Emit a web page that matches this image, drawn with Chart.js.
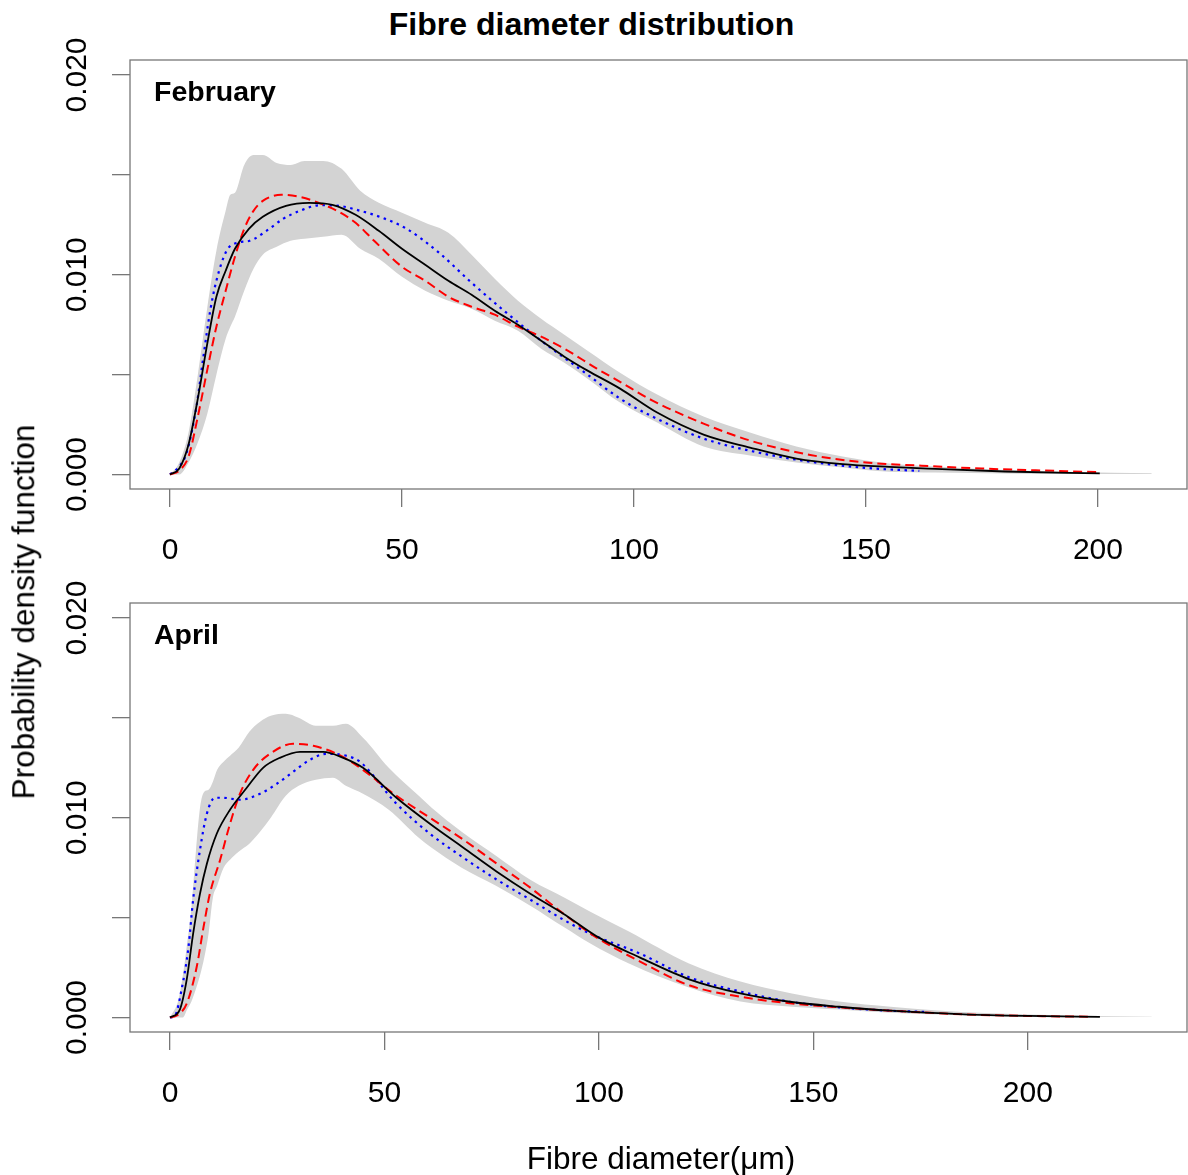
<!DOCTYPE html>
<html>
<head>
<meta charset="utf-8">
<title>Fibre diameter distribution</title>
<script src="https://cdn.jsdelivr.net/npm/chart.js@4.4.0/dist/chart.umd.min.js"></script>
<style>
  body { margin: 0; background: #fff; }
  #wrap { position: relative; width: 1188px; height: 1175px; overflow: hidden;
          font-family: "Liberation Sans", Arial, sans-serif; color: #000; }
  .cv { position: absolute; left: 0; }
  #title { position: absolute; left: 0; width: 1183px; top: 8px; text-align: center;
           font-weight: bold; font-size: 32px; line-height: 32px; }
  #ylab { position: absolute; left: 24px; top: 612px; font-size: 31.5px; line-height: 31.5px;
          white-space: nowrap; transform: translate(-50%, -50%) rotate(-90deg); }
  #xlab { position: absolute; left: 661px; top: 1143px; font-size: 31.5px; line-height: 31.5px;
          white-space: nowrap; transform: translateX(-50%); }
</style>
</head>
<body>
<div id="wrap">
  <div id="title">Fibre diameter distribution</div>
  <canvas id="febChart" class="cv" width="1188" height="580" style="top:0px"></canvas>
  <canvas id="aprChart" class="cv" width="1188" height="595" style="top:580px"></canvas>
  <div id="ylab">Probability density function</div>
  <div id="xlab">Fibre diameter(&mu;m)</div>
</div>
<script>
// axis ticks
const xTickVals = [0, 50, 100, 150, 200];
const yTickVals = [0, 0.005, 0.01, 0.015, 0.02];
const yTickLabels = [0, 0.01, 0.02];

// February: grey band (upper / lower edge), black, red dashed, blue dotted
const febBandX = [0, 2, 4, 6, 8, 10, 12, 13, 14, 16, 18, 20, 23, 26, 29, 33, 37, 41, 45, 50,
                  55, 60, 65, 70, 75, 80, 85, 90, 97, 105, 115, 125, 135, 145, 155, 165, 180, 195, 211.6];
const febUpper = [0, 0.0006, 0.0021, 0.0050, 0.0083, 0.0112, 0.0132, 0.0140, 0.0141, 0.0155,
                  0.0160, 0.0160, 0.0156, 0.0155, 0.0157, 0.0157, 0.0153, 0.0142, 0.0136, 0.0131,
                  0.0126, 0.0121, 0.0110, 0.0098, 0.0087, 0.0078, 0.0070, 0.0062, 0.0051, 0.0040,
                  0.0029, 0.0021, 0.0014, 0.0009, 0.00055, 0.0004, 0.00022, 0.00012, 0.00006];
const febLower = [0, 0, 0.0006, 0.0016, 0.0030, 0.0050, 0.0068, 0.0074, 0.0079, 0.0092,
                  0.0103, 0.0110, 0.0114, 0.0117, 0.0118, 0.0119, 0.0120, 0.0113, 0.0108, 0.0099,
                  0.0092, 0.0087, 0.0083, 0.0077, 0.0072, 0.0063, 0.0056, 0.0048, 0.0036, 0.0026,
                  0.0014, 0.00095, 0.0006, 0.00035, 0.00014, 0.0001, 0.00005, 0.00002, 0.00002];

const febBlackX = [0, 2, 4, 6, 8, 10, 12, 14, 17, 20, 25, 30, 35, 40, 45, 50, 55, 60, 65, 70,
                   75, 80, 85, 90, 97, 105, 115, 125, 135, 145, 155, 165, 180, 200.4];
const febBlack = [0, 0.0003, 0.0015, 0.0038, 0.0065, 0.0089, 0.0102, 0.0113, 0.0123, 0.0129,
                  0.01345, 0.0136, 0.0135, 0.0130, 0.0122, 0.0113, 0.0105, 0.0097, 0.0090, 0.0082,
                  0.0075, 0.0067, 0.0059, 0.0052, 0.0043, 0.0031, 0.0020, 0.00135, 0.0008, 0.00052,
                  0.00038, 0.00028, 0.00015, 0.00006];

const febRedX = [0, 2, 4, 6, 8, 10, 12, 14, 16, 18, 20, 24, 28, 32, 36, 40, 44, 50, 55, 60,
                 65, 70, 75, 80, 85, 92, 97, 104, 115, 125, 138, 150, 162, 175, 188, 200.4];
const febRed = [0, 0.0002, 0.0009, 0.0029, 0.0052, 0.0074, 0.0092, 0.0109, 0.0123, 0.0132,
                0.0137, 0.0140, 0.0139, 0.0136, 0.0132, 0.0126, 0.0117, 0.0104, 0.0097, 0.0089,
                0.0084, 0.0080, 0.0074, 0.0069, 0.0063, 0.0053, 0.00464, 0.0037, 0.00255, 0.0017,
                0.00098, 0.0006, 0.00044, 0.0003, 0.0002, 0.00012];

const febBlueX = [0, 2, 3.6, 5.7, 7.2, 8.6, 10, 12.2, 14.4, 17.2, 20.8, 24.4, 28, 32.3, 37, 41, 44, 51, 58, 65,
                  72.5, 80, 90, 97, 104, 115, 126, 138, 150, 161.5];
const febBlue = [0, 0.0004, 0.0011, 0.0034, 0.0059, 0.0081, 0.0097, 0.0112, 0.0116, 0.0117,
                 0.0122, 0.0128, 0.0132, 0.01348, 0.01343, 0.0132, 0.0130, 0.0123, 0.0111, 0.0096,
                 0.0081, 0.0067, 0.0050, 0.0038, 0.0029, 0.0018, 0.00114, 0.00064, 0.00033, 0.00018];

// April
const aprBandX = [0, 2, 3, 4, 5, 6, 7, 8, 9, 10, 11, 12.5, 14, 16, 18.5, 21, 23.5, 27, 30, 34,
                  38, 41, 45, 51, 58, 61, 68, 76, 84, 92, 98, 107, 121, 133, 145, 156, 168, 190, 210, 228.9];
const aprUpper = [0, 0.0009, 0.0021, 0.0037, 0.0055, 0.0082, 0.0105, 0.0113, 0.0114, 0.0118,
                  0.0124, 0.0128, 0.0131, 0.0135, 0.0143, 0.0148, 0.0151, 0.0152, 0.0150, 0.0146,
                  0.0146, 0.0147, 0.0140, 0.0125, 0.0111, 0.0105, 0.0093, 0.0081, 0.0069, 0.0060,
                  0.0053, 0.0043, 0.0027, 0.0018, 0.0012, 0.0008, 0.00054, 0.00022, 0.0001, 0.00004];
const aprLower = [0, 0, 0, 0.0004, 0.0008, 0.0014, 0.0021, 0.0030, 0.0042, 0.0060,
                  0.0066, 0.0075, 0.0079, 0.0083, 0.0087, 0.0093, 0.0100, 0.0111, 0.0116, 0.0119,
                  0.0120, 0.0116, 0.0112, 0.0104, 0.0090, 0.0085, 0.0075, 0.0066, 0.0056, 0.0045,
                  0.0037, 0.0027, 0.0015, 0.0008, 0.00054, 0.0004, 0.00024, 0.0001, 0.00004, 0.00002];

const aprBlackX = [0, 2.3, 3.9, 5.4, 7, 8.6, 10.9, 14, 17.9, 21.7, 25.6, 30.3, 35.7, 40.4, 45, 52.8, 60.6, 68.4, 76.2, 84,
                   91.7, 100, 109.6, 121.2, 133, 144.5, 156, 168, 185, 200, 216.8];
const aprBlack = [0, 0.0004, 0.0019, 0.0042, 0.0062, 0.0077, 0.0092, 0.0104, 0.0115, 0.0125,
                  0.0130, 0.0133, 0.0133, 0.0130, 0.0125, 0.0110, 0.0097, 0.0085, 0.0073, 0.0062,
                  0.0052, 0.0040, 0.0030, 0.0019, 0.00121, 0.00079, 0.00054, 0.00034, 0.00016, 0.00008,
                  0.00003];

const aprRedX = [0, 1.6, 3.9, 6.2, 7.8, 9.3, 11.7, 14, 16.3, 19.4, 23.3, 28.7, 33.4, 38.9, 44.3, 52.8, 60.6, 68.4, 76.2, 84,
                 91.7, 99.5, 109.6, 121.2, 133, 144.5, 156, 168, 185, 200, 214];
const aprRed = [0, 0.0001, 0.0007, 0.0025, 0.0045, 0.0062, 0.0079, 0.0097, 0.0112, 0.0124,
                0.0132, 0.0137, 0.0136, 0.0132, 0.0125, 0.0111, 0.0100, 0.0089, 0.0077, 0.0065,
                0.0052, 0.0040, 0.0028, 0.0016, 0.00104, 0.00071, 0.00051, 0.00034, 0.00016, 0.00008,
                0.00004];

const aprBlueX = [0, 1.2, 2.7, 4.3, 5.4, 7, 8.6, 10.5, 12.4, 16.3, 21, 24.9, 28.7, 32.6, 36.5, 41.2, 44.3, 52.8, 60.6, 68.4,
                  76.2, 84, 91.7, 97.9, 109.6, 121.2, 133, 144.5, 156, 168, 176];
const aprBlue = [0, 0.0001, 0.0014, 0.0035, 0.0059, 0.0084, 0.0102, 0.0110, 0.0110, 0.0109,
                 0.0112, 0.0117, 0.0123, 0.0129, 0.0132, 0.0131, 0.0128, 0.0107, 0.0092, 0.0080,
                 0.0069, 0.0059, 0.0049, 0.0042, 0.0032, 0.0020, 0.0013, 0.00079, 0.00051, 0.00034,
                 0.00028];

function pts(xs, ys) {
    return xs.map((x, i) => ({ x: x, y: ys[i] }));
}

const FONT = '"Liberation Sans", Arial, sans-serif';

// box, rotated y labels, x labels and panel name (R base-graphics look)
const panelDecor = {
    id: 'panelDecor',
    afterDraw(chart, args, opts) {
        const ctx = chart.ctx;
        const a = chart.chartArea;
        const xs = chart.scales.x;
        const ys = chart.scales.y;
        ctx.save();
        ctx.strokeStyle = '#777';
        ctx.lineWidth = 1.3;
        ctx.strokeRect(a.left, a.top, a.right - a.left, a.bottom - a.top);

        ctx.fillStyle = '#000';
        ctx.font = '30px ' + FONT;
        ctx.textAlign = 'center';
        ctx.textBaseline = 'alphabetic';
        xTickVals.forEach(v => {
            ctx.fillText(String(v), xs.getPixelForValue(v), a.bottom + 70);
        });
        yTickLabels.forEach(v => {
            ctx.save();
            ctx.translate(86, ys.getPixelForValue(v));
            ctx.rotate(-Math.PI / 2);
            ctx.fillText(v.toFixed(3), 0, 0);
            ctx.restore();
        });

        ctx.font = 'bold 28.5px ' + FONT;
        ctx.textAlign = 'left';
        ctx.fillText(opts.label, 154, a.top + 41);
        ctx.restore();
    }
};

function makePanel(canvasId, p) {
    const line = (data, color, width, dash) => ({
        data: data,
        showLine: true,
        borderColor: color,
        borderWidth: width,
        borderDash: dash,
        pointRadius: 0,
        fill: false,
        cubicInterpolationMode: 'monotone'
    });
    const band = (data, fill) => ({
        data: data,
        showLine: true,
        borderWidth: 0,
        borderColor: 'rgba(0,0,0,0)',
        backgroundColor: '#d3d3d3',
        pointRadius: 0,
        fill: fill,
        cubicInterpolationMode: 'monotone'
    });

    // first dataset is painted last, so black ends up on top
    const datasets = [
        line(pts(p.blackX, p.black), '#000000', 1.8, []),
        line(pts(p.redX, p.red), '#ff0000', 2, [9, 5]),
        line(pts(p.blueX, p.blue), '#0000ff', 2.2, [2.5, 4.5]),
        band(pts(p.bandX, p.upper), '+1'),
        band(pts(p.bandX, p.lower), false)
    ];

    return new Chart(document.getElementById(canvasId), {
        type: 'scatter',
        data: { datasets: datasets },
        plugins: [panelDecor],
        options: {
            responsive: false,
            animation: false,
            devicePixelRatio: 1,
            layout: { padding: { top: p.padTop, right: 1, left: 0, bottom: 0 } },
            plugins: {
                legend: { display: false },
                tooltip: { enabled: false },
                panelDecor: { label: p.label }
            },
            scales: {
                x: {
                    type: 'linear',
                    min: p.xMin,
                    max: p.xMax,
                    afterBuildTicks: s => { s.ticks = xTickVals.map(v => ({ value: v })); },
                    afterFit: s => { s.height = p.xHeight; },
                    ticks: { display: false },
                    border: { display: false },
                    grid: { drawOnChartArea: false, drawTicks: true, tickLength: 18,
                            color: '#777', lineWidth: 1.3 }
                },
                y: {
                    type: 'linear',
                    min: -0.000725,
                    max: 0.02075,
                    afterBuildTicks: s => { s.ticks = yTickVals.map(v => ({ value: v })); },
                    afterFit: s => { s.width = 130; },
                    ticks: { display: false },
                    border: { display: false },
                    grid: { drawOnChartArea: false, drawTicks: true, tickLength: 18,
                            color: '#777', lineWidth: 1.3 }
                }
            }
        }
    });
}

makePanel('febChart', {
    label: 'February', padTop: 60, xHeight: 91, xMin: -8.62, xMax: 219.2,
    bandX: febBandX, upper: febUpper, lower: febLower,
    blackX: febBlackX, black: febBlack,
    redX: febRedX, red: febRed,
    blueX: febBlueX, blue: febBlue
});

makePanel('aprChart', {
    label: 'April', padTop: 23, xHeight: 143, xMin: -9.32, xMax: 237.1,
    bandX: aprBandX, upper: aprUpper, lower: aprLower,
    blackX: aprBlackX, black: aprBlack,
    redX: aprRedX, red: aprRed,
    blueX: aprBlueX, blue: aprBlue
});
</script>
</body>
</html>
